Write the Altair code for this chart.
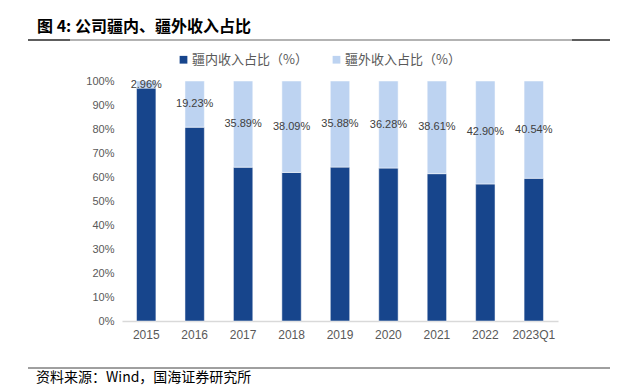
import altair as alt
import pandas as pd

years = ["2015", "2016", "2017", "2018", "2019", "2020", "2021", "2022", "2023Q1"]
inner = [97.04, 80.77, 64.11, 61.91, 64.12, 63.72, 61.39, 57.10, 59.46]
outer = [2.96, 19.23, 35.89, 38.09, 35.88, 36.28, 38.61, 42.90, 40.54]
series = ["疆内收入占比（%）", "疆外收入占比（%）"]
colors = ["#17458C", "#BDD3F1"]
y_ticks = [0, 10, 20, 30, 40, 50, 60, 70, 80, 90, 100]

FONT = "Liberation Sans, Noto Sans CJK SC"
CJK = "Noto Sans CJK SC"

rows = []
for i, y in enumerate(years):
    rows.append({"year": y, "series": series[0], "value": inner[i], "order": 0})
    rows.append({"year": y, "series": series[1], "value": outer[i], "order": 1})
df = pd.DataFrame(rows)
lab = pd.DataFrame({"year": years, "inner": inner, "outer": outer})

W, H = 436, 240
yscale = alt.Scale(domain=[0, 100], nice=False)
xscale = alt.Scale(paddingInner=0.6, paddingOuter=0.3)

x_axis = alt.Axis(labelAngle=0, ticks=False, domainColor="#D9D9D9", domainWidth=1.5,
                  labelFont=FONT, labelFontSize=12, labelColor="#595959", labelPadding=8)
y_axis = alt.Axis(values=y_ticks, labelExpr="datum.value + '%'",
                  labelOverlap=False, labelBound=False,
                  grid=False, ticks=False, domain=False, labelFont=FONT,
                  labelFontSize=11, labelColor="#595959", labelPadding=8)

bars = alt.Chart(df).mark_bar(stroke="white", strokeWidth=0.5).encode(
    x=alt.X("year:N", sort=years, title=None, scale=xscale, axis=x_axis),
    y=alt.Y("value:Q", stack="zero", title=None, scale=yscale, axis=y_axis),
    color=alt.Color("series:N", sort=series, scale=alt.Scale(domain=series, range=colors),
                    legend=alt.Legend(title=None, orient="none", direction="horizontal",
                                      legendX=55, legendY=-28, symbolType="square",
                                      symbolSize=60, symbolStrokeWidth=0,
                                      labelFont=CJK, labelFontSize=13, labelColor="#595959",
                                      columnPadding=22, symbolOffset=0, labelOffset=2)),
    order=alt.Order("order:Q"),
)

labels = alt.Chart(lab).transform_calculate(
    mid="(datum.inner + 100) / 2",
    txt="format(datum.outer, '.2f') + '%'",
).mark_text(font=FONT, fontSize=11, color="#404040").encode(
    x=alt.X("year:N", sort=years, title=None, scale=xscale, axis=x_axis),
    y=alt.Y("mid:Q", title=None, scale=yscale, axis=y_axis),
    text="txt:N",
)

one = pd.DataFrame({"a": [0]})
title = alt.Chart(one).mark_text(text="图 4:  公司疆内、疆外收入占比", font=CJK, fontSize=16,
                                 fontWeight="bold", align="left", baseline="middle",
                                 color="#000000").encode(x=alt.value(-85), y=alt.value(-54))
rule_grey = alt.Chart(one).mark_rule(color="#9A9A9A", strokeWidth=1.5).encode(
    x=alt.value(-94), x2=alt.value(493), y=alt.value(-41))
rule_l = alt.Chart(one).mark_rule(color="#404040", strokeWidth=1.5).encode(
    x=alt.value(-94), x2=alt.value(-52), y=alt.value(-41))
rule_r = alt.Chart(one).mark_rule(color="#404040", strokeWidth=1.5).encode(
    x=alt.value(450), x2=alt.value(493), y=alt.value(-41))
rule_b = alt.Chart(one).mark_rule(color="#404040", strokeWidth=1).encode(
    x=alt.value(-94), x2=alt.value(493), y=alt.value(287))
source = alt.Chart(one).mark_text(text="资料来源：Wind，国海证券研究所", font=CJK, fontSize=14,
                                  align="left", baseline="middle", color="#000000").encode(
    x=alt.value(-86), y=alt.value(297))

chart = alt.layer(bars, labels, title, rule_grey, rule_l, rule_r, rule_b, source).properties(
    width=W, height=H,
    autosize=alt.AutoSizeParams(type="none"),
    padding={"left": 114, "top": 73, "right": 52, "bottom": 64},
).configure_view(stroke=None)

chart.save("out.html", embed_options={"renderer": "svg", "actions": False})
